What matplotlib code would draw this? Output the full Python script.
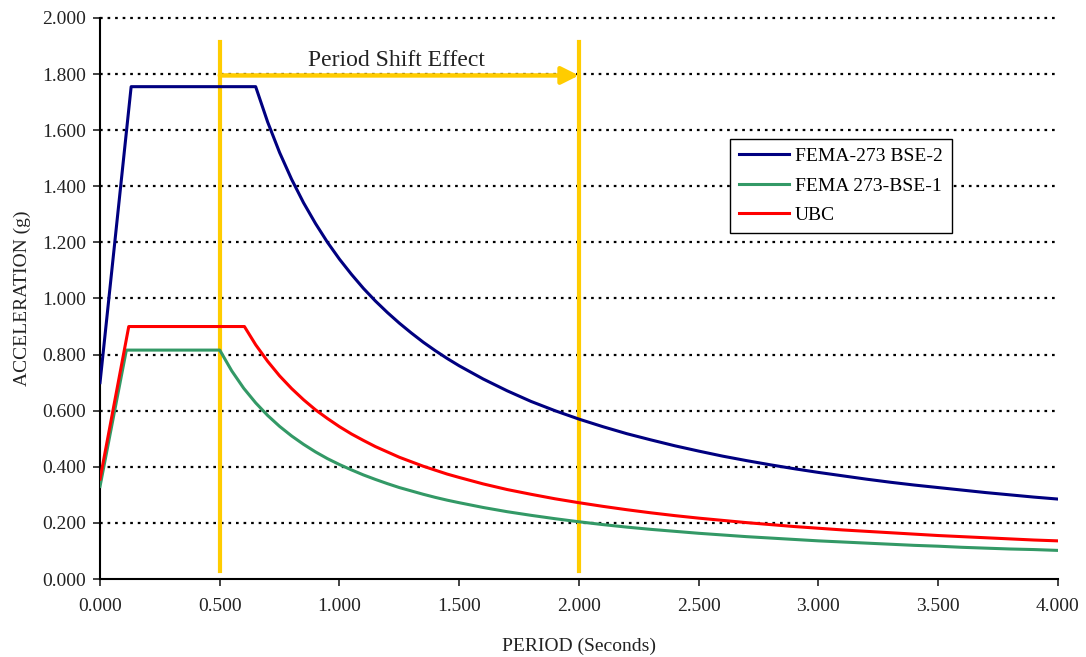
import matplotlib.pyplot as plt

plt.rcParams['font.family'] = ['Liberation Serif', 'DejaVu Serif']

# Спектры ускорений (период, с -> ускорение, g)
tail_t = [0.7, 0.75, 0.8, 0.85, 0.9, 0.95, 1.0, 1.05, 1.1, 1.15, 1.2, 1.25,
          1.3, 1.35, 1.4, 1.45, 1.5,
          1.6, 1.7, 1.8, 1.9, 2.0, 2.1, 2.2, 2.3, 2.4, 2.5, 2.6, 2.7, 2.8, 2.9,
          3.0, 3.1, 3.2, 3.3, 3.4, 3.5, 3.6, 3.7, 3.8, 3.9, 4.0]

bse2_t = [0.0, 0.13, 0.65] + tail_t
bse2_a = [0.700, 1.755, 1.755,
          1.629, 1.520, 1.425, 1.341, 1.267, 1.200, 1.140, 1.086, 1.036, 0.991,
          0.950, 0.912, 0.877, 0.844, 0.814, 0.786, 0.760,
          0.713, 0.671, 0.633, 0.600, 0.570, 0.543, 0.518, 0.496, 0.475, 0.456,
          0.438, 0.422, 0.407, 0.393, 0.380, 0.368, 0.356, 0.345, 0.335, 0.326,
          0.317, 0.308, 0.300, 0.292, 0.285]

bse1_t = [0.0, 0.11, 0.5, 0.55, 0.6, 0.65] + tail_t
bse1_a = [0.330, 0.816, 0.816, 0.742, 0.680, 0.628,
          0.583, 0.544, 0.510, 0.480, 0.453, 0.429, 0.408, 0.389, 0.371, 0.355,
          0.340, 0.326, 0.314, 0.302, 0.291, 0.281, 0.272,
          0.255, 0.240, 0.227, 0.215, 0.204, 0.194, 0.185, 0.177, 0.170, 0.163,
          0.157, 0.151, 0.146, 0.141, 0.136, 0.132, 0.128, 0.124, 0.120, 0.117,
          0.113, 0.110, 0.107, 0.105, 0.102]

ubc_t = [0.0, 0.12, 0.603, 0.65] + tail_t
ubc_a = [0.356, 0.900, 0.900, 0.835,
         0.776, 0.724, 0.679, 0.639, 0.603, 0.572, 0.543, 0.517, 0.494, 0.472,
         0.453, 0.434, 0.418, 0.402, 0.388, 0.374, 0.362,
         0.339, 0.319, 0.302, 0.286, 0.272, 0.259, 0.247, 0.236, 0.226, 0.217,
         0.209, 0.201, 0.194, 0.187, 0.181, 0.175, 0.170, 0.165, 0.160, 0.155,
         0.151, 0.147, 0.143, 0.139, 0.136]

# Сдвиг периода
shift_from = 0.5
shift_to = 2.0

yellow = '#FFCC00'
txt = '#222222'

fig = plt.figure(figsize=(10.86, 6.57), dpi=100)
ax = fig.add_axes([0.0921, 0.1187, 0.882, 0.854])

for yv in [0.2, 0.4, 0.6, 0.8, 1.0, 1.2, 1.4, 1.6, 1.8, 2.0]:
    ax.axhline(yv, color='black', lw=1.6, ls=(0, (1.2, 2.2)), zorder=1, clip_on=False)

ax.plot([shift_from, shift_from], [0.03, 1.915], color=yellow, lw=3, zorder=2)
ax.plot([shift_to, shift_to], [0.03, 1.915], color=yellow, lw=3, zorder=2)
ax.annotate('', xy=(shift_to, 1.795), xytext=(shift_from, 1.795),
            arrowprops=dict(arrowstyle='-|>', color=yellow, lw=3.2,
                            mutation_scale=26, shrinkA=0, shrinkB=0), zorder=3)
ax.text(1.236, 1.85, 'Period Shift Effect', ha='center', va='center',
        fontsize=17, color=txt)

ax.plot(bse2_t, bse2_a, color='#000080', lw=2.2, label='FEMA-273 BSE-2', zorder=4)
ax.plot(bse1_t, bse1_a, color='#339966', lw=2.2, label='FEMA 273-BSE-1', zorder=4)
ax.plot(ubc_t, ubc_a, color='#FF0000', lw=2.2, label='UBC', zorder=5)

ax.set_xlim(0, 4)
ax.set_ylim(0, 2)
ax.set_xticks([0, 0.5, 1, 1.5, 2, 2.5, 3, 3.5, 4])
ax.set_yticks([0, 0.2, 0.4, 0.6, 0.8, 1.0, 1.2, 1.4, 1.6, 1.8, 2.0])
ax.xaxis.set_major_formatter(lambda v, p: f'{v:.3f}')
ax.yaxis.set_major_formatter(lambda v, p: f'{v:.3f}')
ax.tick_params(labelsize=14, colors=txt, length=5, width=1.2, direction='out')
ax.tick_params(axis='x', pad=9)
ax.tick_params(axis='y', pad=5)

for s in ['top', 'right']:
    ax.spines[s].set_visible(False)
for s in ['left', 'bottom']:
    ax.spines[s].set_linewidth(1.5)
    ax.spines[s].set_color('black')

ax.set_xlabel('PERIOD (Seconds)', fontsize=14, color=txt, labelpad=16)
ax.set_ylabel('ACCELERATION (g)', fontsize=14, color=txt, labelpad=8)

leg = ax.legend(loc='upper left', bbox_to_anchor=(0.6575, 0.785), fontsize=14,
                frameon=True, fancybox=False, handlelength=2.6, borderpad=0.45,
                labelspacing=0.62, handletextpad=0.3, borderaxespad=0,
                framealpha=1)
leg.get_frame().set_edgecolor('black')
leg.get_frame().set_linewidth(1.0)

fig.savefig('out.png', dpi=100)
